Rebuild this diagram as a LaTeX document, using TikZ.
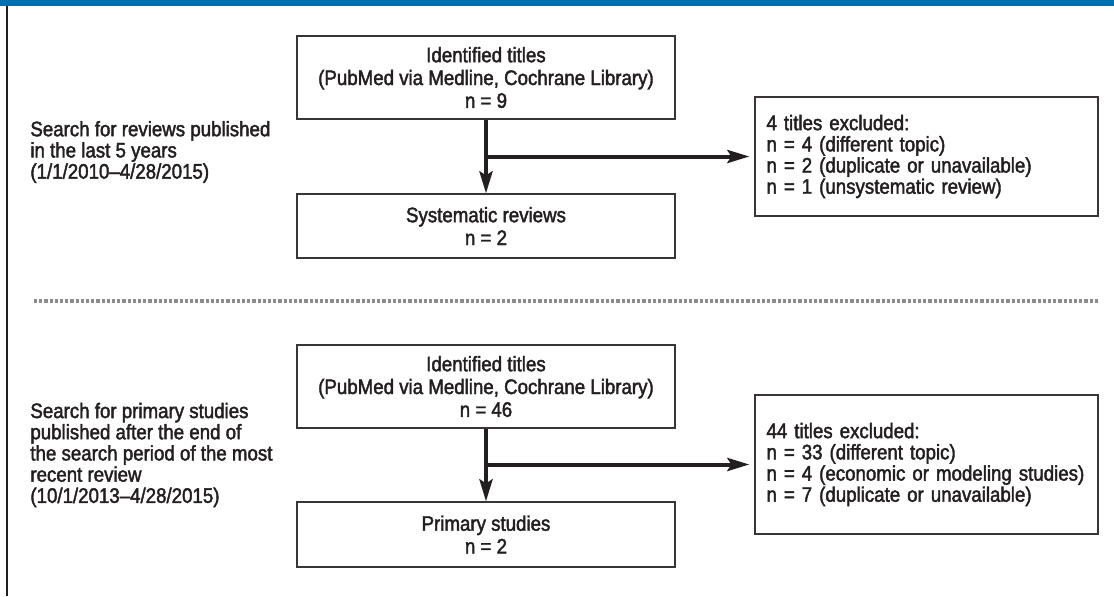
\documentclass[tikz,border=0pt]{standalone}
\usepackage{fontspec}
\setmainfont{Liberation Sans}[FakeStretch = 0.89, FakeBold = 2]
\usetikzlibrary{arrows.meta}

\def\myflowunit{0.5pt}
\definecolor{myblue}{RGB}{0,112,176}
\definecolor{myink}{RGB}{35,31,32}
\definecolor{mydots}{RGB}{140,140,140}

\begin{document}
\begin{tikzpicture}[x = \myflowunit, y = -\myflowunit,
  every node/.style = {font = \fontsize{10.5}{11.4}\selectfont, text = myink},
  titlebox/.style = {draw = myink!90, line width = 0.6pt, align = center, minimum width = 189pt, inner sep = 0pt},
  exclbox/.style = {draw = myink!90, line width = 0.6pt, align = left, text width = 160pt, inner xsep = 5.75pt, font = \fontsize{10.5}{10.6}\selectfont},
  sidetext/.style = {anchor = west, align = left, inner sep = 0pt, font = \fontsize{10.5}{10.6}\selectfont},
  flowarrow/.style = {line width = 2pt, draw = myink, -{Stealth[length = 11pt, width = 6.5pt, inset = 2pt]}}]
\useasboundingbox (0,0) rectangle (1114,596);
\fill [myblue] (0,0) rectangle (1114,6); %top band
\draw [myink, line width = 1pt] (7,6) -- (7,596); %left rule

%search for reviews
\node [sidetext] (searchA) at (30,152) {Search for reviews published\\in the last 5 years\\(1/1/2010–4/28/2015)};
\node [titlebox, minimum height = 41.5pt] (titlesA) at (486,77.5) {Identified titles\\(PubMed via Medline, Cochrane Library)\\n = 9};
\node [titlebox, minimum height = 32pt] (reviewsA) at (486,226) {Systematic reviews\\n = 2};
\node [exclbox, minimum height = 59.5pt] (exclA) at (926.5,156.5) {4 titles excluded:\\n = 4 (different topic)\\n = 2 (duplicate or unavailable)\\n = 1 (unsystematic review)};
\coordinate (splitA) at (titlesA.south |- exclA.west);
\draw [flowarrow] (titlesA) -- (reviewsA); %titles to reviews
\draw [flowarrow, shorten >= 2.5pt] (splitA) -- (exclA); %branch to excluded

\draw [mydots, line width = 1.6pt, dash pattern = on 1.6pt off 1pt] (34,301) -- (1098,301);

%search for primary studies
\node [sidetext] (searchB) at (30,455) {Search for primary studies\\published after the end of\\the search period of the most\\recent review\\(10/1/2013–4/28/2015)};
\node [titlebox, minimum height = 41.5pt] (titlesB) at (486,386.5) {Identified titles\\(PubMed via Medline, Cochrane Library)\\n = 46};
\node [titlebox, minimum height = 32.5pt] (studiesB) at (486,534.5) {Primary studies\\n = 2};
\node [exclbox, minimum height = 69.5pt] (exclB) at (926.5,464.5) {44 titles excluded:\\n = 33 (different topic)\\n = 4 (economic or modeling studies)\\n = 7 (duplicate or unavailable)};
\coordinate (splitB) at (titlesB.south |- exclB.west);
\draw [flowarrow] (titlesB) -- (studiesB); %titles to studies
\draw [flowarrow, shorten >= 2.5pt] (splitB) -- (exclB); %branch to excluded
\end{tikzpicture}
\end{document}
